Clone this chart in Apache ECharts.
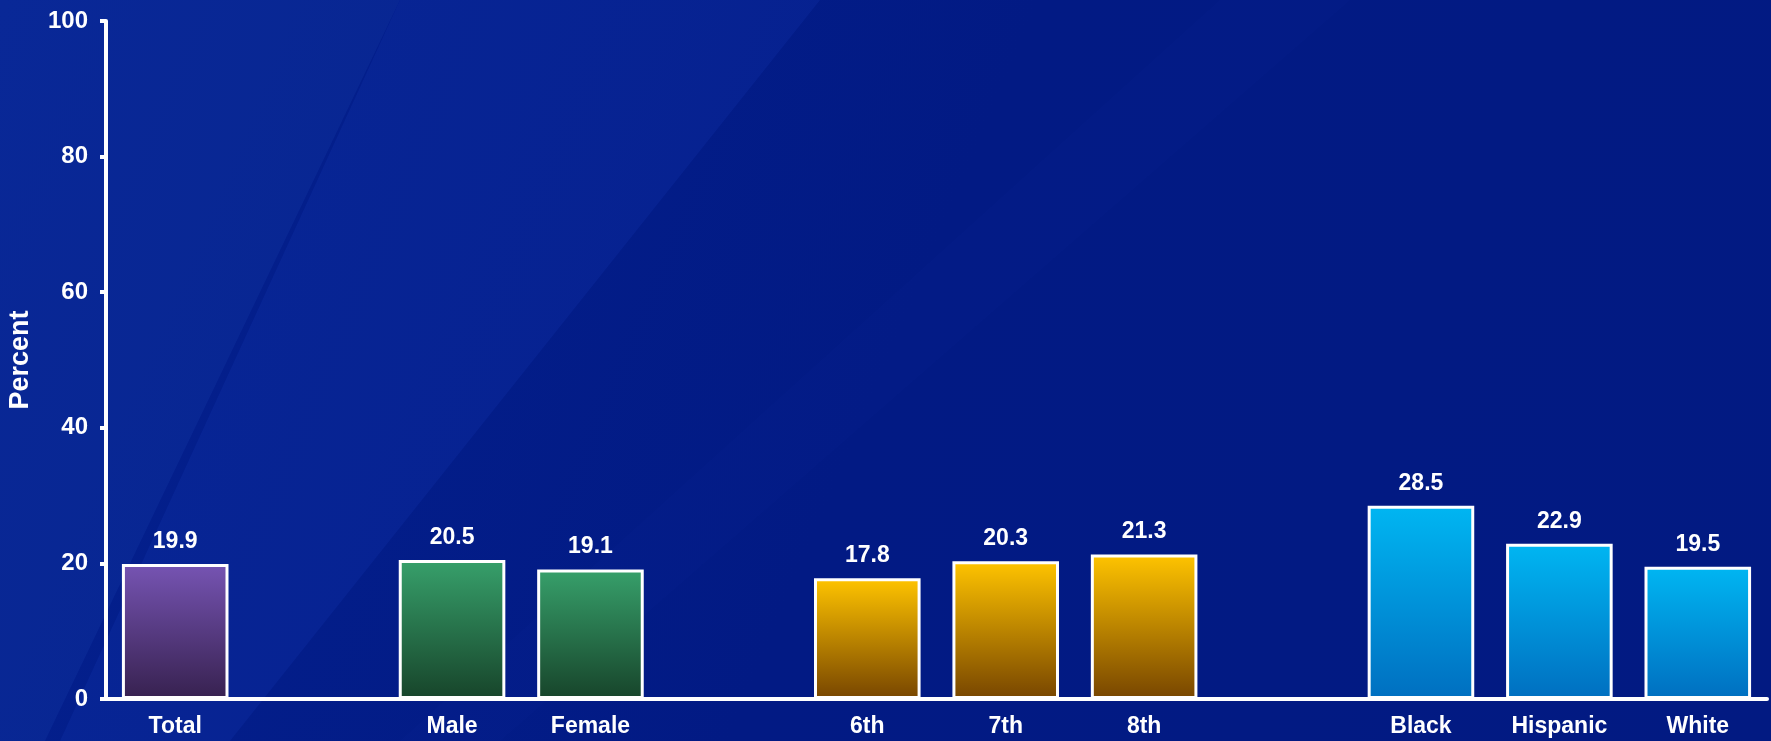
<!DOCTYPE html>
<html>
<head>
<meta charset="utf-8">
<script src="https://cdn.jsdelivr.net/npm/echarts@6/dist/echarts.min.js"></script>
<style>
html,body{margin:0;padding:0;width:1771px;height:741px;overflow:hidden;background:#021b85;}
#chart{width:1771px;height:741px;}
</style>
</head>
<body>
<div id="chart"></div>
<script>
// Categories (blank slots separate the groups)
const categories = ['Total', '', 'Male', 'Female', '', '6th', '7th', '8th', '', 'Black', 'Hispanic', 'White'];
const values = [19.9, null, 20.5, 19.1, null, 17.8, 20.3, 21.3, null, 28.5, 22.9, 19.5];
const groups = ['total', null, 'sex', 'sex', null, 'grade', 'grade', 'grade', null, 'race', 'race', 'race'];
const yTicks = [0, 20, 40, 60, 80, 100];

const groupColors = {
  total: ['#7654b3', '#37214f'],
  sex:   ['#37a06b', '#17442a'],
  grade: ['#ffc400', '#774500'],
  race:  ['#00b6f2', '#006fc0']
};

function grad(c) {
  return new echarts.graphic.LinearGradient(0, 0, 0, 1, [
    {offset: 0, color: c[0]}, {offset: 1, color: c[1]}
  ]);
}

const seriesData = values.map((v, i) => {
  if (v === null) return '-';
  return {value: v, itemStyle: {color: grad(groupColors[groups[i]])}};
});

const FONT = 'Liberation Sans, Arial, sans-serif';
const chart = echarts.init(document.getElementById('chart'));
chart.setOption({
  backgroundColor: new echarts.graphic.LinearGradient(0, 0, 1, 1, [
    {offset: 0, color: '#04218f'},
    {offset: 0.5, color: '#021a84'},
    {offset: 1, color: '#021a82'}
  ]),
  graphic: [
    {type: 'polygon', silent: true, z: -10, shape: {points: [[0, 741], [0, 0], [400, 0], [45, 741]]},
      style: {fill: 'rgba(40,80,190,0.16)'}},
    {type: 'polygon', silent: true, z: -10, shape: {points: [[230, 741], [820, 0], [400, 0], [60, 741]]},
      style: {fill: 'rgba(30,70,200,0.16)'}},
    {type: 'polygon', silent: true, z: -10, shape: {points: [[500, 741], [1350, 0], [1220, 0], [400, 741]]},
      style: {fill: 'rgba(20,50,170,0.08)'}}
  ],
  grid: {left: 106, right: 4, top: 21, bottom: 42, containLabel: false, outerBoundsMode: 'none'},
  xAxis: {
    type: 'category',
    data: categories,
    boundaryGap: true,
    axisLine: {lineStyle: {color: '#ffffff', width: 4}},
    axisTick: {show: false},
    axisLabel: {color: '#ffffff', fontSize: 23, fontWeight: 'bold', fontFamily: FONT, margin: 16, interval: 0}
  },
  yAxis: {
    type: 'value',
    min: 0, max: 100, interval: 20,
    name: 'Percent',
    nameLocation: 'middle',
    nameGap: 72,
    nameTextStyle: {color: '#ffffff', fontSize: 27, fontWeight: 'bold', fontFamily: FONT},
    axisLine: {show: true, lineStyle: {color: '#ffffff', width: 4}},
    axisTick: {show: true, length: 6, lineStyle: {color: '#ffffff', width: 4}},
    splitLine: {show: false},
    axisLabel: {color: '#ffffff', fontSize: 24, fontWeight: 'bold', fontFamily: FONT, margin: 18,
      formatter: v => yTicks.includes(v) ? String(v) : ''}
  },
  series: [{
    type: 'bar',
    data: seriesData,
    barWidth: '77%',
    itemStyle: {borderColor: '#ffffff', borderWidth: 3},
    label: {show: true, position: 'top', distance: 11, color: '#ffffff', fontSize: 23, fontWeight: 'bold',
      fontFamily: FONT, formatter: p => p.value.toFixed(1)},
    animation: false
  }],
  animation: false
});
</script>
</body>
</html>
